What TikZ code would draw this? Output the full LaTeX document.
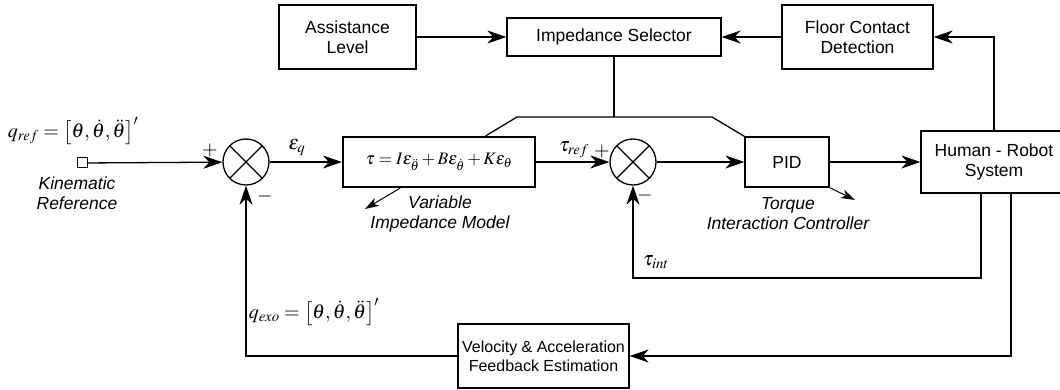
\documentclass[tikz,border=0pt]{standalone}
\usepackage{mathptmx}
\usepackage[no-math]{fontspec}
\setmainfont{Liberation Sans}
\usetikzlibrary{arrows.meta,calc}

\begin{document}
\begin{tikzpicture}[x=1pt,y=-1pt,line width=1.3pt,
    every node/.style={font=\fontsize{17.5}{20}\selectfont},
    blk/.style={draw,align=center,inner sep=0pt},
    sumnode/.style={draw,circle,minimum size=46pt,inner sep=0pt,
        path picture={\draw (path picture bounding box.south west) -- (path picture bounding box.north east)
                            (path picture bounding box.north west) -- (path picture bounding box.south east);}},
    lbl/.style={font=\fontsize{17.5}{20}\selectfont\itshape,align=center},
    sym/.style={font=\fontsize{20}{22}\selectfont},
    >={Stealth[length=19pt,width=13pt,inset=6pt]}]
    \useasboundingbox (0,0) rectangle (1060,390);

    \node[blk,minimum width=137pt,minimum height=64pt] (1) at (347.5,37) {Assistance\\Level};
    \node[blk,minimum width=214pt,minimum height=38pt] (2) at (614,37) {Impedance Selector};
    \node[blk,minimum width=151pt,minimum height=64pt] (3) at (857.5,37) {Floor Contact\\Detection};

    \node[draw,minimum width=10pt,minimum height=10pt,inner sep=0pt,line width=1pt] (0) at (82,163) {};
    \node[sumnode] (5) at (246,162) {};
    \node[blk,line width=2.2pt,minimum width=192pt,minimum height=50pt] (4) at (439,162)
        {$\tau = I\varepsilon_{\ddot{\theta}} + B\varepsilon_{\dot{\theta}} + K\varepsilon_{\theta}$};
    \node[sumnode] (6) at (633,162) {};
    \node[blk,minimum width=84pt,minimum height=50pt] (7) at (787,162) {PID};
    \node[blk,minimum width=146pt,minimum height=62pt] (8) at (994,162) {Human - Robot\\System};
    \node[blk,minimum width=171pt,minimum height=64pt,font=\fontsize{16}{19}\selectfont] (9) at (543.5,356)
        {Velocity \& Acceleration\\Feedback Estimation};

    \node[sym] at (73,131) {$q_{ref} = \left[\theta,\dot{\theta},\ddot{\theta}\right]'$};
    \node[lbl] at (77,193) {Kinematic\\Reference};
    \node[sym] at (210,151) {$+$};
    \node[sym] at (265,197) {$-$};
    \node[sym] at (297,147) {$\varepsilon_q$};
    \node[sym] at (574,150) {$\tau_{ref}$};
    \node[sym] at (602,152) {$+$};
    \node[sym] at (645,196) {$-$};
    \node[lbl] at (440,214) {Variable\\Impedance Model};
    \node[lbl] at (788,214) {Torque\\Interaction Controller};
    \node[sym] at (656,262) {$\tau_{int}$};
    \node[sym] at (314,312) {$q_{exo} = \left[\theta,\dot{\theta},\ddot{\theta}\right]'$};

    \coordinate (c1) at (517,117);
    \coordinate (c2) at (712,117);
    \coordinate (c3) at (981,278);
    \coordinate (c4) at (1011,356);
    \coordinate (a1) at (365,209);
    \coordinate (a2) at (855,200);

    \draw (2) -- (2 |- c1);
    \draw ($(4.north west)!0.74!(4.north east)$) -- (c1) -- (c2) -- (7.north west);

    \draw[->] (1) -- (2);
    \draw[->] (3) -- (2);
    \draw[->] (8.north) |- (3);
    \draw[->] (0) -- (5);
    \draw[->] (5) -- (4);
    \draw[->] (4) -- (6);
    \draw[->] (6) -- (7);
    \draw[->] (7) -- (8);
    \draw[->] (c3 |- 8.south) -- (c3) -| (6);
    \draw[->] (c4 |- 8.south) |- (9);
    \draw[->] (9) -| (5);
    \draw[->,line width=1pt,>={Stealth[length=14pt,width=9pt,inset=4pt]}] ($(4.south west)!0.3!(4.south east)$) -- (a1);
    \draw[->,line width=1pt,>={Stealth[length=14pt,width=9pt,inset=4pt]}] (7.south east) -- (a2);
\end{tikzpicture}
\end{document}
